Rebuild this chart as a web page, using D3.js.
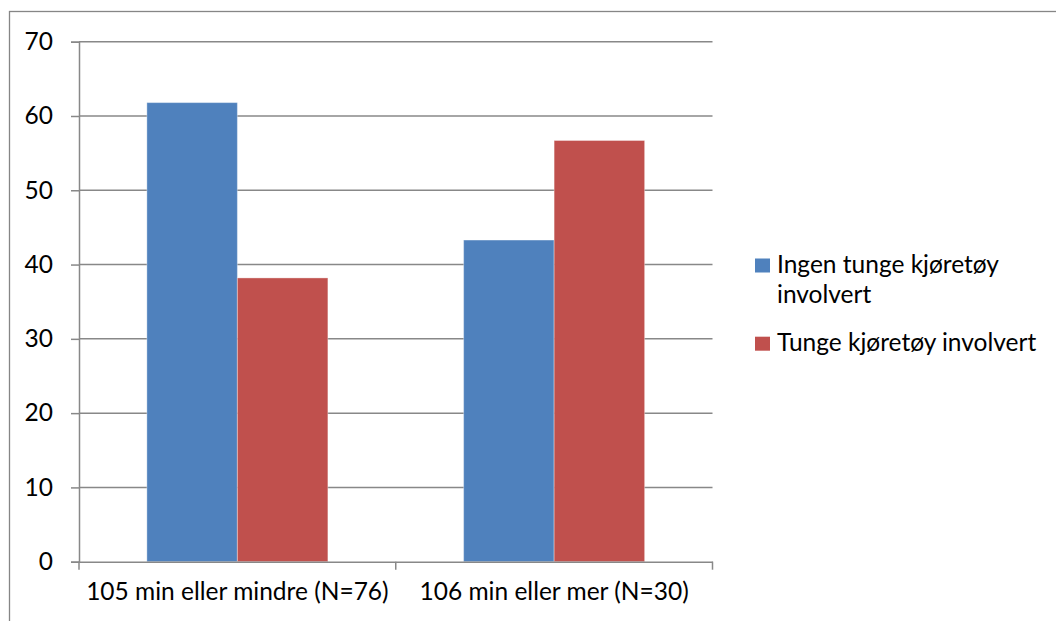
<!DOCTYPE html>
<html>
<head>
<meta charset="utf-8">
<script src="https://cdn.jsdelivr.net/npm/d3@7"></script>
<style>
  html, body { margin: 0; padding: 0; background: #fff; }
  svg { display: block; }
  text { font-family: Lato, "Open Sans", sans-serif; fill: #000; }
</style>
</head>
<body>
<svg id="chart" width="1056" height="621"></svg>
<script>
const categories = ["105 min eller mindre (N=76)", "106 min eller mer (N=30)"];
const seriesNames = ["Ingen tunge kjøretøy involvert", "Tunge kjøretøy involvert"];
const legendLines = [["Ingen tunge kjøretøy", "involvert"], ["Tunge kjøretøy involvert"]];
const ingenTunge = [61.8, 43.3];
const tunge = [38.2, 56.7];
const yTicks = [0, 10, 20, 30, 40, 50, 60, 70];
const colors = ["#4F81BD", "#C0504D"];

const svg = d3.select("#chart");
const plot = { left: 79, right: 712.5, top: 41.7, bottom: 561.7 };
const fontSize = 24.5;

// outer frame (extends beyond right/bottom edge)
svg.append("rect")
  .attr("x", 9.5).attr("y", 11.5).attr("width", 1200).attr("height", 800)
  .attr("fill", "none").attr("stroke", "#868686").attr("stroke-width", 1.3);

const y = d3.scaleLinear().domain([0, 70]).range([plot.bottom, plot.top]);
const x0 = d3.scaleBand().domain(categories).range([plot.left, plot.right]).paddingInner(0).paddingOuter(0);
// gap width 150% => bars occupy 2/(2+1.5) of category width
const groupFrac = 2 / 3.5;
const x1 = d3.scaleBand().domain(seriesNames).range([0, x0.bandwidth() * groupFrac]).padding(0);

// gridlines
svg.append("g").selectAll("line").data(yTicks.filter(d => d > 0)).join("line")
  .attr("x1", plot.left).attr("x2", plot.right)
  .attr("y1", d => y(d)).attr("y2", d => y(d))
  .attr("stroke", "#888").attr("stroke-width", 1.5);

// y axis
const yAxis = d3.axisLeft(y).tickValues(yTicks).tickSize(8).tickPadding(18);
const gy = svg.append("g").attr("transform", `translate(${plot.left},0)`).call(yAxis);
gy.select(".domain").attr("stroke", "#888").attr("stroke-width", 1.5);
gy.selectAll(".tick line").attr("stroke", "#888").attr("stroke-width", 1.5);
gy.selectAll(".tick text").attr("font-size", fontSize).attr("font-family", "Lato, 'Open Sans', sans-serif").attr("fill", "#000");

// bars
const data = [ingenTunge, tunge];
const groups = svg.append("g").selectAll("g").data(categories).join("g")
  .attr("transform", d => `translate(${x0(d) + x0.bandwidth() * (1 - groupFrac) / 2},0)`);
groups.selectAll("rect").data((c, i) => seriesNames.map((s, j) => ({ s, v: data[j][i], j })))
  .join("rect")
  .attr("x", d => x1(d.s))
  .attr("width", x1.bandwidth())
  .attr("y", d => y(d.v))
  .attr("height", d => y(0) - y(d.v))
  .attr("fill", d => colors[d.j])
  .attr("stroke", "rgba(255,255,255,0.35)").attr("stroke-width", 1);

// x axis
const xAxis = d3.axisBottom(x0).tickValues([]).tickSizeOuter(0);
const gx = svg.append("g").attr("transform", `translate(0,${plot.bottom})`).call(xAxis);
gx.select(".domain").attr("stroke", "#888").attr("stroke-width", 1.5);
// category boundary ticks
const bounds = [plot.left, x0(categories[1]), plot.right];
gx.selectAll("line.bt").data(bounds).join("line").attr("class", "bt")
  .attr("x1", d => d).attr("x2", d => d).attr("y1", 0).attr("y2", 8)
  .attr("stroke", "#888").attr("stroke-width", 1.5);
gx.selectAll("text.cat").data(categories).join("text").attr("class", "cat")
  .attr("x", d => x0(d) + x0.bandwidth() / 2).attr("y", 38)
  .attr("text-anchor", "middle").attr("font-size", fontSize).text(d => d);

// legend
const legendX = 755, legendTextX = 777;
const legendTop = [258.5, 336.7];
const leg = svg.append("g");
legendLines.forEach((lines, i) => {
  leg.append("rect").attr("x", legendX).attr("y", legendTop[i]).attr("width", 15).attr("height", 14)
    .attr("fill", colors[i]);
  lines.forEach((ln, k) => {
    leg.append("text").attr("x", legendTextX).attr("y", legendTop[i] + 14.5 + k * 30)
      .attr("font-size", fontSize).text(ln);
  });
});
</script>
</body>
</html>
